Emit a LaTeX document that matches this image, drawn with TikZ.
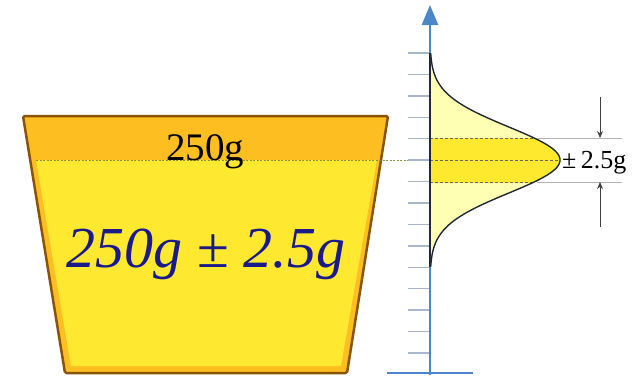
\documentclass[tikz,border=0pt]{standalone}
\usepackage{fontspec}
\setmainfont{Liberation Serif}
\usetikzlibrary{arrows.meta}
\definecolor{rimorange}{HTML}{FDBE22}
\definecolor{bodyyellow}{HTML}{FFE930}
\definecolor{bucketbrown}{HTML}{8A5406}
\definecolor{axisblue}{HTML}{4A86C8}
\definecolor{tickblue}{HTML}{A8B8CC}
\definecolor{paleyellow}{HTML}{FFFFB4}
\definecolor{bandyellow}{HTML}{FFE92E}
\definecolor{textnavy}{HTML}{1A1A8A}
\definecolor{olivedot}{HTML}{8A9440}
\definecolor{curvedark}{HTML}{1E2A36}
\tikzset{
  tickline/.style={tickblue, line width=1.5pt},
  bandline/.style={black!60, dash pattern=on 3pt off 2pt, line width=0.8pt},
  guideline/.style={black!30, line width=0.7pt},
  measarrow/.style={black!75, line width=0.8pt, -{Stealth[length=7pt,width=6pt]}},
}
\begin{document}
\begin{tikzpicture}[x=1pt,y=-1pt]
\useasboundingbox (0,0) rectangle (636,375);
% bucket
\draw[bucketbrown, line width=2.5pt, fill=rimorange, line join=round, rounded corners=1.5pt]
  (23,116) -- (388,116) -- (347,373) -- (65,373) -- cycle;
\fill[bodyyellow] (36,160) -- (377,160) -- (341,366) -- (71,366) -- cycle;
\draw[olivedot, dash pattern=on 2pt off 1.5pt, line width=0.8pt] (36,160) -- (430,160);
\node[font=\fontsize{39}{42}\selectfont, anchor=base, inner sep=0] (rimlabel) at (205,160) {250g};
\node[font=\fontsize{58}{62}\selectfont\itshape, text=textnavy, anchor=base, inner sep=0] (mainlabel) at (206,267) {250g {\upshape±} 2.5g};
% distribution
\fill[paleyellow] plot[domain=53:267, samples=150] ({430+130*exp(-((\x-160)/33)^2/2)}, \x) -- cycle;
\begin{scope}
  \clip (430,138) rectangle (600,182);
  \fill[bandyellow] plot[domain=53:267, samples=150] ({430+130*exp(-((\x-160)/33)^2/2)}, \x) -- cycle;
\end{scope}
\draw[bandline] (430,138) -- (534,138);
\draw[bandline] (430,160) -- (560,160);
\draw[bandline] (430,182) -- (534,182);
% axis
\foreach \k in {0,...,14} \draw[tickline] (408,{53+21.43*\k}) -- (430,{53+21.43*\k});
\draw[axisblue, line width=2.5pt, -{Triangle[length=20pt,width=16pt]}] (430,375) -- (430,5);
\draw[axisblue, line width=2.5pt] (387,373) -- (473,373);
\draw[curvedark, line width=2.5pt] (430,53) -- (430,267);
\draw[curvedark, line width=1.4pt] plot[domain=53:267, samples=150] ({430+130*exp(-((\x-160)/33)^2/2)}, \x);
% tolerance marks
\draw[guideline] (537,138) -- (622,138);
\draw[guideline] (537,182) -- (622,182);
\coordinate (toptail) at (600,97);
\coordinate (tophead) at (600,138);
\coordinate (bottail) at (600,227);
\coordinate (bothead) at (600,182);
\draw[measarrow] (toptail) -- (tophead);
\draw[measarrow] (bottail) -- (bothead);
\node[font=\fontsize{26}{28}\selectfont, anchor=base west, inner sep=0] (errlabel) at (562,168) {±\,2.5g};
\end{tikzpicture}
\end{document}
